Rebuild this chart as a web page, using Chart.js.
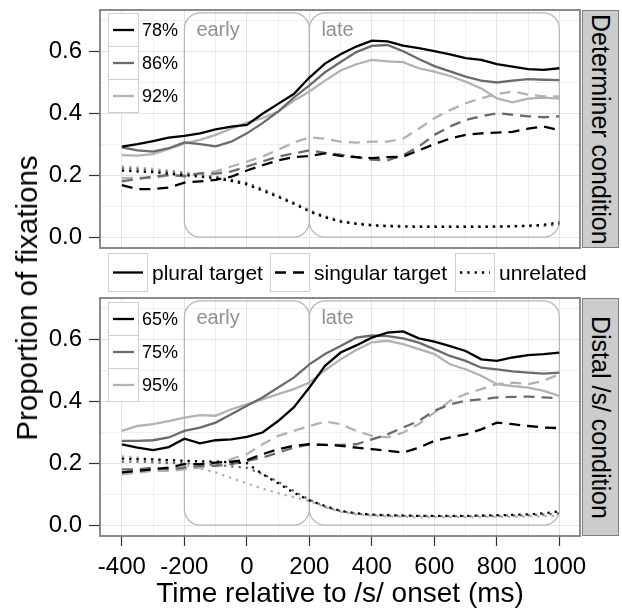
<!DOCTYPE html>
<html lang="en">
    <head>
        <meta charset="UTF-8">
        <title>Proportion of fixations</title>
        <script src="https://cdn.jsdelivr.net/npm/chart.js"></script>
        <style>
            body { margin: 0; background: #fff; font-family: "Liberation Sans", Arial, Helvetica, sans-serif; }
            #wrap { position: relative; width: 622px; height: 608px; overflow: hidden; }
            canvas { position: absolute; left: 0; }
            .abs { position: absolute; white-space: nowrap; color: #000; }
            .key { position: absolute; box-sizing: border-box; border: 1px solid #cfcfcf; background: #fff; }
            .key svg { display: block; width: 100%; height: 100%; }
            .strip { position: absolute; box-sizing: border-box; background: #cccccc; border: 1.5px solid #7f7f7f;
                     writing-mode: vertical-rl; display: flex; align-items: center; justify-content: center; font-size: 25px; }
        </style>
    </head>
    <body>
        <div id="wrap">
            <canvas id="topChart" width="622" height="260" style="top:0"></canvas>
            <canvas id="bottomChart" width="622" height="348" style="top:260px"></canvas>
        </div>

        <script>
            // time points (ms relative to /s/ onset)
            const times = [-400, -350, -300, -250, -200, -150, -100, -50, 0, 50, 100, 150, 200, 250, 300,
                           350, 400, 450, 500, 550, 600, 650, 700, 750, 800, 850, 900, 950, 1000];

            const typeLabels = ['plural target', 'singular target', 'unrelated'];
            const facetLabels = ['Determiner condition', 'Distal /s/ condition'];
            const topShadeLabels = ['78%', '86%', '92%'];
            const bottomShadeLabels = ['65%', '75%', '95%'];
            const windowNames = ['early', 'late'];
            const windowStart = [-200, 200];
            const windowEnd = [200, 1000];
            const windowTop = 0.724;
            const xTicks = [-400, -300, -200, -100, 0, 100, 200, 300, 400, 500, 600, 700, 800, 900, 1000];
            const yTicks = [0, 0.1, 0.2, 0.3, 0.4, 0.5, 0.6, 0.7];

            // Determiner condition
            const detPlural78 = [.292, .300, .310, .321, .327, .335, .348, .357, .362, .398, .430, .462, .515, .560, .590,
                                 .615, .634, .632, .618, .610, .600, .590, .578, .572, .558, .550, .542, .540, .545];
            const detPlural86 = [.290, .280, .276, .287, .306, .300, .293, .308, .335, .368, .405, .450, .490, .532, .565,
                                 .597, .617, .620, .600, .575, .552, .535, .518, .505, .499, .505, .510, .508, .507];
            const detPlural92 = [.265, .263, .268, .285, .302, .314, .330, .350, .370, .384, .405, .440, .470, .505, .538,
                                 .558, .572, .567, .565, .545, .534, .520, .502, .480, .448, .435, .447, .450, .447];
            const detSingular78 = [.168, .155, .155, .160, .176, .180, .185, .195, .215, .232, .248, .258, .262, .270, .262,
                                   .258, .255, .258, .260, .280, .300, .318, .330, .335, .337, .340, .350, .357, .345];
            const detSingular86 = [.180, .188, .196, .200, .196, .206, .205, .212, .228, .244, .260, .270, .280, .272, .266,
                                   .258, .250, .248, .265, .292, .330, .357, .378, .390, .400, .395, .390, .387, .390];
            const detSingular92 = [.190, .192, .190, .200, .200, .206, .212, .228, .244, .260, .282, .305, .322, .318, .308,
                                   .305, .308, .308, .318, .350, .384, .410, .432, .448, .462, .470, .460, .454, .454];
            const detUnrelated78 = [.215, .212, .210, .205, .200, .195, .190, .182, .170, .150, .130, .108, .083, .064, .050,
                                    .043, .038, .035, .034, .033, .033, .033, .033, .033, .034, .035, .037, .040, .048];
            const detUnrelated86 = [.222, .220, .215, .210, .205, .200, .195, .185, .175, .155, .132, .110, .085, .066, .052,
                                    .044, .039, .037, .036, .035, .035, .035, .035, .035, .035, .036, .036, .038, .042];
            const detUnrelated92 = [.228, .225, .220, .215, .210, .200, .190, .180, .172, .155, .135, .112, .088, .068, .054,
                                    .045, .040, .037, .036, .035, .034, .034, .034, .034, .034, .034, .035, .036, .040];

            // Distal /s/ condition
            const disPlural65 = [.261, .250, .242, .252, .279, .264, .274, .277, .285, .299, .336, .380, .444, .514, .557,
                                 .580, .605, .621, .625, .603, .592, .578, .562, .535, .530, .541, .549, .552, .557];
            const disPlural75 = [.272, .272, .274, .283, .304, .315, .331, .358, .385, .412, .444, .476, .519, .552, .578,
                                 .605, .612, .610, .603, .589, .568, .546, .530, .508, .503, .496, .492, .489, .492];
            const disPlural95 = [.304, .320, .326, .336, .347, .355, .353, .374, .390, .406, .423, .439, .460, .500, .535,
                                 .565, .590, .595, .584, .568, .552, .519, .503, .482, .455, .449, .444, .433, .417];
            const disSingular65 = [.170, .175, .180, .186, .197, .197, .202, .205, .210, .229, .245, .256, .261, .259, .256,
                                   .250, .245, .240, .234, .250, .272, .283, .293, .309, .331, .326, .320, .315, .313];
            const disSingular75 = [.180, .180, .186, .180, .186, .191, .191, .197, .207, .218, .234, .250, .261, .259, .259,
                                   .261, .277, .293, .315, .336, .369, .390, .401, .406, .412, .414, .415, .412, .410];
            const disSingular95 = [.164, .170, .175, .175, .180, .185, .197, .213, .229, .261, .288, .304, .320, .334, .326,
                                   .304, .288, .283, .299, .326, .363, .401, .423, .439, .455, .460, .455, .466, .487];
            const disUnrelated65 = [.215, .213, .212, .210, .208, .206, .205, .203, .200, .165, .135, .105, .080, .062, .046,
                                    .038, .034, .032, .031, .030, .030, .030, .030, .031, .032, .033, .035, .038, .045];
            const disUnrelated75 = [.205, .205, .203, .200, .200, .198, .195, .190, .185, .165, .140, .110, .082, .060, .045,
                                    .037, .033, .031, .030, .030, .029, .029, .029, .030, .030, .031, .032, .034, .038];
            const disUnrelated95 = [.222, .218, .212, .205, .195, .183, .170, .152, .135, .118, .103, .090, .078, .058, .043,
                                    .035, .030, .028, .027, .026, .026, .026, .026, .026, .027, .027, .028, .029, .030];

            const FONT = '"Liberation Sans", Arial, Helvetica, sans-serif';
            const shades = ['#000000', '#6b6b6b', '#b2b2b2'];
            const dashes = [[], [11, 7], [2.3, 5]];

            function series(values, shade, dash) {
                return {
                    data: values.map((v, i) => ({ x: times[i], y: v })),
                    borderColor: shades[shade],
                    borderDash: dashes[dash],
                    borderWidth: 2.3,
                    borderCapStyle: 'butt',
                    pointRadius: 0,
                    fill: false,
                    tension: 0
                };
            }

            const xMajor = v => v % 200 === 0;
            const yMajor = v => Math.round(v * 10) % 2 === 0;

            const panelDecor = {
                id: 'panelDecor',
                beforeDatasetsDraw(chart) {
                    const { ctx, scales: { x, y } } = chart;
                    ctx.save();
                    ctx.strokeStyle = '#b5b5b5';
                    ctx.lineWidth = 1.2;
                    ctx.fillStyle = '#919191';
                    ctx.font = '20px ' + FONT;
                    ctx.textBaseline = 'middle';
                    windowNames.forEach((name, i) => {
                        const l = x.getPixelForValue(windowStart[i]);
                        const r = x.getPixelForValue(windowEnd[i]);
                        const t = y.getPixelForValue(windowTop);
                        const b = y.getPixelForValue(0);
                        ctx.beginPath();
                        ctx.roundRect(l, t, r - l, b - t, 16);
                        ctx.stroke();
                        ctx.fillText(name, l + 12, t + 18);
                    });
                    ctx.restore();
                },
                afterDraw(chart) {
                    const { ctx, chartArea: a } = chart;
                    ctx.save();
                    ctx.strokeStyle = '#7f7f7f';
                    ctx.lineWidth = 1.8;
                    ctx.strokeRect(a.left, a.top, a.right - a.left, a.bottom - a.top);
                    ctx.restore();
                }
            };

            function makeChart(id, datasets, showX, padTop, padBottom, xHeight) {
                return new Chart(document.getElementById(id), {
                    type: 'line',
                    data: { datasets },
                    plugins: [panelDecor],
                    options: {
                        responsive: false,
                        animation: false,
                        layout: { padding: { left: 0, right: 42, top: padTop, bottom: padBottom } },
                        plugins: { legend: { display: false }, tooltip: { enabled: false } },
                        scales: {
                            x: {
                                type: 'linear',
                                min: -470,
                                max: 1066,
                                afterBuildTicks: s => { s.ticks = xTicks.map(v => ({ value: v })); },
                                afterFit: s => { s.height = xHeight; s.paddingLeft = 0; s.paddingRight = 0; },
                                border: { display: false },
                                grid: {
                                    color: c => xMajor(c.tick.value) ? '#e3e3e3' : '#efefef',
                                    drawTicks: showX,
                                    tickLength: 10,
                                    tickWidth: 1.2,
                                    tickColor: c => xMajor(c.tick.value) ? '#333333' : 'rgba(0,0,0,0)'
                                },
                                ticks: {
                                    display: showX,
                                    autoSkip: false,
                                    maxRotation: 0,
                                    padding: 7,
                                    color: '#000',
                                    font: { family: FONT, size: 24 },
                                    callback: v => xMajor(v) ? String(v) : ''
                                }
                            },
                            y: {
                                min: -0.035,
                                max: 0.733,
                                afterBuildTicks: s => { s.ticks = yTicks.map(v => ({ value: v })); },
                                afterFit: s => { s.width = 100; s.paddingTop = 0; s.paddingBottom = 0; },
                                border: { display: false },
                                grid: {
                                    color: c => yMajor(c.tick.value) ? '#e3e3e3' : '#efefef',
                                    tickLength: 11,
                                    tickWidth: 1.2,
                                    tickColor: c => yMajor(c.tick.value) ? '#333333' : 'rgba(0,0,0,0)'
                                },
                                ticks: {
                                    autoSkip: false,
                                    padding: 7,
                                    color: '#000',
                                    font: { family: FONT, size: 24 },
                                    callback: v => yMajor(v) ? v.toFixed(1) : ''
                                }
                            }
                        }
                    }
                });
            }

            makeChart('topChart', [
                series(detPlural78, 0, 0), series(detSingular78, 0, 1), series(detUnrelated78, 0, 2),
                series(detPlural86, 1, 0), series(detSingular86, 1, 1), series(detUnrelated86, 1, 2),
                series(detPlural92, 2, 0), series(detSingular92, 2, 1), series(detUnrelated92, 2, 2)
            ], false, 10, 12, 0);

            makeChart('bottomChart', [
                series(disPlural65, 0, 0), series(disSingular65, 0, 1), series(disUnrelated65, 0, 2),
                series(disPlural75, 1, 0), series(disSingular75, 1, 1), series(disUnrelated75, 1, 2),
                series(disPlural95, 2, 0), series(disSingular95, 2, 1), series(disUnrelated95, 2, 2)
            ], true, 38, 0, 72);

            // legends, strips and titles as html text
            const wrap = document.getElementById('wrap');
            function add(html) { wrap.insertAdjacentHTML('beforeend', html); }
            function keySvg(color, dash, w, h) {
                const da = dash.length ? ` stroke-dasharray="${dash.join(' ')}"` : '';
                return `<svg viewBox="0 0 ${w} ${h}"><line x1="4" x2="${w - 4}" y1="${h / 2}" y2="${h / 2}"
                        stroke="${color}" stroke-width="2.3"${da}/></svg>`;
            }

            // line type legend
            const typeKeyX = [108, 270, 455];
            typeLabels.forEach((label, i) => {
                add(`<div class="key" style="left:${typeKeyX[i]}px;top:253px;width:40px;height:39px">${keySvg('#000', dashes[i], 38, 37)}</div>`);
                add(`<div class="abs" style="left:${typeKeyX[i] + 44}px;top:253px;line-height:39px;font-size:21px">${label}</div>`);
            });

            // shade legends inside panels
            [[topShadeLabels, 13], [bottomShadeLabels, 302]].forEach(([labels, top]) => {
                labels.forEach((label, i) => {
                    const y = top + i * 33;
                    add(`<div class="key" style="left:108px;top:${y}px;width:31px;height:34px">${keySvg(shades[i], [], 29, 32)}</div>`);
                    add(`<div class="abs" style="left:142px;top:${y}px;line-height:34px;font-size:18px">${label}</div>`);
                });
            });

            // facet strips
            [[facetLabels[0], 10], [facetLabels[1], 298]].forEach(([label, top]) => {
                add(`<div class="strip" style="left:582px;top:${top}px;width:37px;height:238px">${label}</div>`);
            });

            // axis titles
            add(`<div class="abs" style="left:27px;top:298px;font-size:29.5px;transform:translate(-50%,-50%) rotate(-90deg)">Proportion of fixations</div>`);
            add(`<div class="abs" style="left:340px;top:593px;font-size:28px;transform:translate(-50%,-50%)">Time relative to /s/ onset (ms)</div>`);
        </script>
    </body>
</html>
